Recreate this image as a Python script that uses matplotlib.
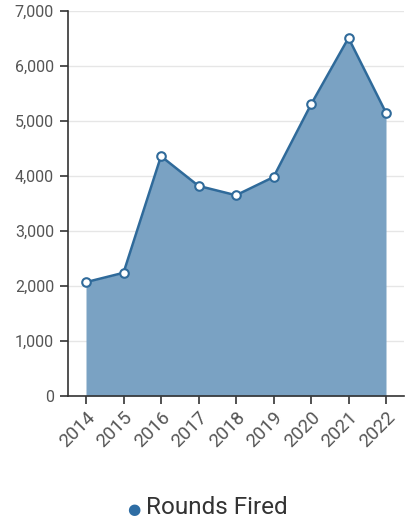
import matplotlib.pyplot as plt
from matplotlib.ticker import FuncFormatter

plt.rcParams['font.family'] = ['Roboto', 'DejaVu Sans']

years = [2014, 2015, 2016, 2017, 2018, 2019, 2020, 2021, 2022]
rounds = [2070, 2240, 4360, 3820, 3650, 3980, 5300, 6510, 5150]

line_col = '#2f6a9a'
fill_col = '#7aa2c3'

fig = plt.figure(figsize=(4.07, 5.2), dpi=100)
ax = fig.add_axes([68/407, 124/520, 336/407, 385/520])

ax.fill_between(years, rounds, 0, color=fill_col, lw=0, zorder=2)
ax.plot(years, rounds, color=line_col, lw=1.8, zorder=3)
ax.scatter(years, rounds, s=38, facecolor='white', edgecolor=line_col, linewidth=1.5, zorder=4)

ax.set_xlim(2013.52, 2022.48)
ax.set_ylim(0, 7000)
ax.set_yticks(range(0, 7001, 1000))
ax.yaxis.set_major_formatter(FuncFormatter(lambda v, p: f'{int(v):,}'))
ax.set_xticks(years)
ax.set_xticklabels([str(y) for y in years], rotation=45, ha='right', rotation_mode='anchor')

ax.grid(axis='y', color='#e6e6e6', lw=1, zorder=0)
ax.set_axisbelow(True)
for s in ['top', 'right']:
    ax.spines[s].set_visible(False)
for s in ['left', 'bottom']:
    ax.spines[s].set_color('#333333')
    ax.spines[s].set_linewidth(1.2)
ax.tick_params(axis='both', colors='#333333', labelcolor='#555555', length=6, width=1.2)
ax.tick_params(axis='y', pad=4, labelsize=11.5)
ax.tick_params(axis='x', pad=3, labelsize=13.5)

fig.text(134/407, 1 - 510/520, '\u25cf', color='#2e6da4', fontsize=11, ha='center', va='center')
fig.text(146/407, 1 - 508/520, 'Rounds Fired', color='#333333', fontsize=17.5, ha='left', va='center')

fig.savefig('out.png', dpi=100)
